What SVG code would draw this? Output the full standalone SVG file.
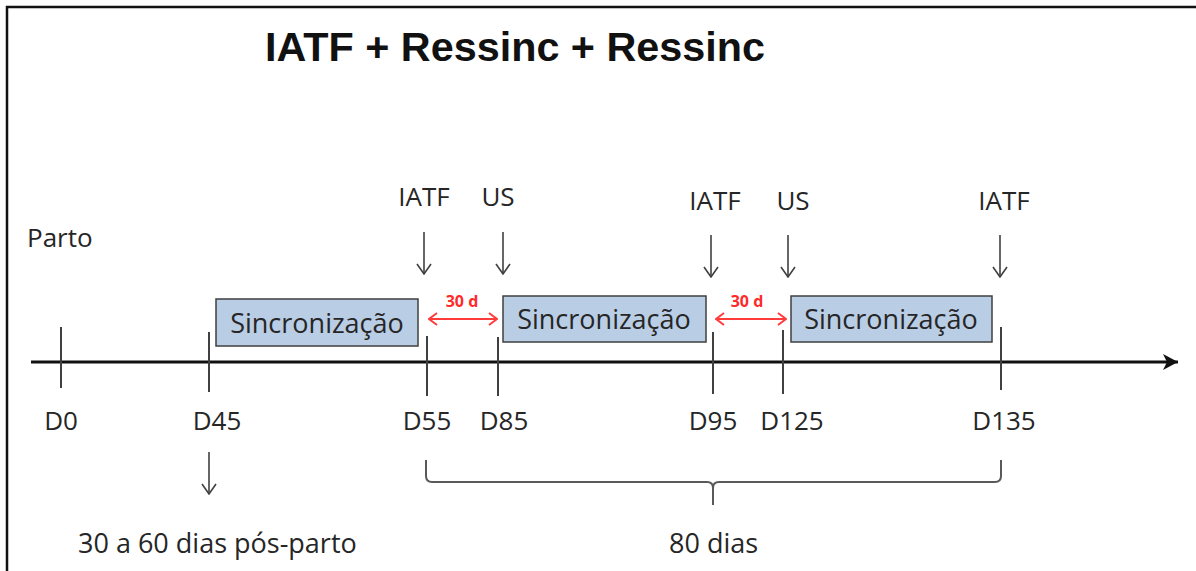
<svg xmlns="http://www.w3.org/2000/svg" width="1196" height="571" viewBox="0 0 1196 571">
<defs>
<style>
.t{font-family:"Open Sans","Noto Sans",sans-serif;font-size:26px;fill:#262626;}
.c{text-anchor:middle;}
.box{fill:#b9cde5;stroke:#3f3f3f;stroke-width:1.5;}
.bt{font-size:27px;}
.tick{stroke:#404040;stroke-width:2;}
.down{stroke:#404040;stroke-width:1.6;fill:none;marker-end:url(#vhead);}
.red{stroke:#ff3b3b;stroke-width:2;fill:none;marker-start:url(#rhead);marker-end:url(#rhead);}
.rt{font-family:"Open Sans","Noto Sans",sans-serif;font-size:16px;font-weight:bold;fill:#ff2a2a;text-anchor:middle;}
</style>
<marker id="vhead" viewBox="0 0 12 16" refX="11" refY="8" markerWidth="12" markerHeight="16" markerUnits="userSpaceOnUse" orient="auto">
<path d="M1,1 L11,8 L1,15" fill="none" stroke="#404040" stroke-width="1.6"/>
</marker>
<marker id="rhead" viewBox="0 0 12 14" refX="11" refY="7" markerWidth="12" markerHeight="14" markerUnits="userSpaceOnUse" orient="auto-start-reverse">
<path d="M3,1 L11,7 L3,13" fill="none" stroke="#ff3b3b" stroke-width="2"/>
</marker>
<marker id="axhead" viewBox="0 0 16 18" refX="15" refY="9" markerWidth="16" markerHeight="18" markerUnits="userSpaceOnUse" orient="auto">
<path d="M0,1 L15,9 L0,17 L4,9 Z" fill="#111"/>
</marker>
</defs>
<rect width="1196" height="571" fill="#fff"/>
<g id="frame">
<line x1="6" y1="7" x2="1196" y2="7" stroke="#111" stroke-width="2.5"/>
<line x1="7" y1="6" x2="7" y2="571" stroke="#111" stroke-width="2.5"/>
</g>
<g id="title">
<text x="265" y="61" font-family="Liberation Sans, Arial, sans-serif" font-weight="bold" font-size="40" fill="#111" textLength="500" lengthAdjust="spacingAndGlyphs">IATF + Ressinc + Ressinc</text>
</g>
<g id="connectors">
<line x1="31" y1="362" x2="1178" y2="362" stroke="#111" stroke-width="3" marker-end="url(#axhead)"/>
<line class="tick" x1="61" y1="327" x2="61" y2="388"/>
<line class="tick" x1="209" y1="332" x2="209" y2="392"/>
<line class="tick" x1="427" y1="336" x2="427" y2="396"/>
<line class="tick" x1="498" y1="337" x2="498" y2="396"/>
<line class="tick" x1="713" y1="332" x2="713" y2="394"/>
<line class="tick" x1="783" y1="330" x2="783" y2="394"/>
<line class="tick" x1="1001" y1="327" x2="1001" y2="390"/>
<line class="down" x1="424" y1="232" x2="424" y2="274"/>
<line class="down" x1="503" y1="232" x2="503" y2="274"/>
<line class="down" x1="711" y1="235" x2="711" y2="277"/>
<line class="down" x1="788" y1="235" x2="788" y2="277"/>
<line class="down" x1="1000" y1="235" x2="1000" y2="277"/>
<line class="down" x1="209" y1="452" x2="209" y2="494"/>
<line class="red" x1="429" y1="319" x2="497" y2="319"/>
<line class="red" x1="716" y1="319" x2="786" y2="319"/>
<path d="M426,460 L426,476 Q426,482 432,482 L707,482 Q713,482 713,488 L713,505 M713,488 Q713,482 719,482 L995,482 Q1001,482 1001,476 L1001,460" fill="none" stroke="#595959" stroke-width="2"/>
</g>
<g id="sync1">
<rect class="box" x="216" y="299" width="202" height="47"/>
<text class="t c bt" x="317" y="333">Sincronização</text>
</g>
<g id="sync2">
<rect class="box" x="503" y="296" width="203" height="46"/>
<text class="t c bt" x="604" y="329">Sincronização</text>
</g>
<g id="sync3">
<rect class="box" x="791" y="296" width="201" height="46"/>
<text class="t c bt" x="891" y="329">Sincronização</text>
</g>
<g id="gap-labels">
<text class="rt" x="462" y="307">30 d</text>
<text class="rt" x="747" y="307">30 d</text>
</g>
<g id="event-labels">
<text class="t c" x="424" y="206" font-size="25">IATF</text>
<text class="t c" x="498" y="206" font-size="25">US</text>
<text class="t c" x="715" y="210" font-size="25">IATF</text>
<text class="t c" x="793" y="210" font-size="25">US</text>
<text class="t c" x="1004" y="210" font-size="25">IATF</text>
<text class="t" x="27" y="247">Parto</text>
</g>
<g id="day-labels">
<text class="t c" x="61" y="430">D0</text>
<text class="t c" x="217" y="430">D45</text>
<text class="t c" x="427" y="430">D55</text>
<text class="t c" x="504" y="430">D85</text>
<text class="t c" x="713" y="430">D95</text>
<text class="t c" x="792" y="430">D125</text>
<text class="t c" x="1004" y="430">D135</text>
</g>
<g id="notes">
<text class="t bt" x="78" y="553">30 a 60 dias pós-parto</text>
<text class="t bt" x="669" y="553">80 dias</text>
</g>
</svg>
